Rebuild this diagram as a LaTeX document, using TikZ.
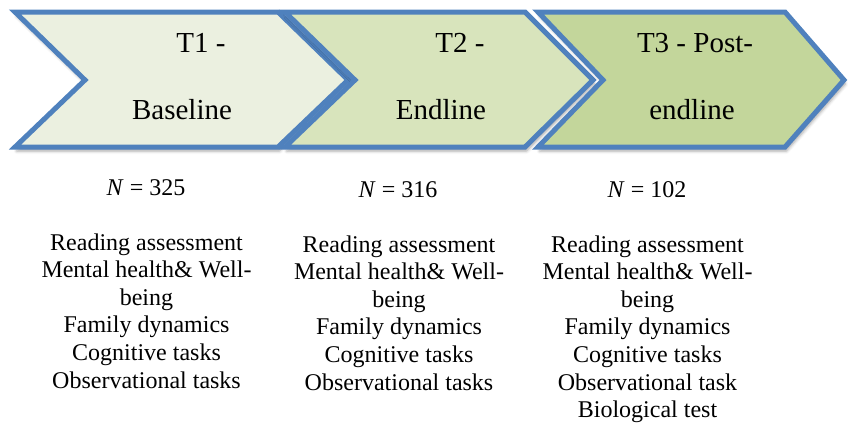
\documentclass[tikz,border=0pt]{standalone}
\usepackage{fontspec}
\setmainfont{Liberation Serif}
\usetikzlibrary{shadows.blur}
\definecolor{bordblue}{HTML}{4F81BD}
\definecolor{fillA}{HTML}{EBF0E0}
\definecolor{fillB}{HTML}{D8E4BC}
\definecolor{fillC}{HTML}{C3D69B}
\tikzset{
  chev/.style={draw=bordblue, line width=5pt, line join=miter,
    blur shadow={shadow xshift=1.5pt, shadow yshift=-4pt, shadow blur radius=3pt, shadow opacity=35}},
  headtxt/.style={font=\fontsize{29}{33}\selectfont, anchor=base, inner sep=0pt},
  listtxt/.style={font=\fontsize{24}{27.6}\selectfont, anchor=base, inner sep=0pt}
}
\begin{document}
\begin{tikzpicture}[x=1pt,y=-1pt]
\useasboundingbox (0,0) rectangle (848,424);
% chevrons
\path[chev, fill=fillA] (15,12) -- (278,12) -- (348,80) -- (278,147) -- (15,147) -- (85,80) -- cycle;
\path[chev, fill=fillB] (285,12) -- (525,12) -- (593,80) -- (525,147) -- (285,147) -- (355,80) -- cycle;
\path[chev, fill=fillC] (538,12) -- (785,12) -- (844,80) -- (785,147) -- (538,147) -- (603,80) -- cycle;
% chevron labels
\node[headtxt] (h1a) at (201,52) {T1 -};
\node[headtxt] (h1b) at (182,119) {Baseline};
\node[headtxt] (h2a) at (460,52) {T2 -};
\node[headtxt] (h2b) at (441,119) {Endline};
\node[headtxt] (h3a) at (695,52) {T3 - Post-};
\node[headtxt] (h3b) at (692,119) {endline};
% N values
\node[listtxt] (n1) at (146,195) {\textit{N} = 325};
\node[listtxt] (n2) at (398,197) {\textit{N} = 316};
\node[listtxt] (n3) at (647,197) {\textit{N} = 102};
% column 1
\node[listtxt] (a1) at (146.5,250) {Reading assessment};
\node[listtxt] (a2) at (146.5,277.6) {Mental health\& Well-};
\node[listtxt] (a3) at (146.5,305.2) {being};
\node[listtxt] (a4) at (146.5,332.8) {Family dynamics};
\node[listtxt] (a5) at (146.5,360.4) {Cognitive tasks};
\node[listtxt] (a6) at (146.5,388) {Observational tasks};
% column 2
\node[listtxt] (b1) at (399,252) {Reading assessment};
\node[listtxt] (b2) at (399,279.6) {Mental health\& Well-};
\node[listtxt] (b3) at (399,307.2) {being};
\node[listtxt] (b4) at (399,334.8) {Family dynamics};
\node[listtxt] (b5) at (399,362.4) {Cognitive tasks};
\node[listtxt] (b6) at (399,390) {Observational tasks};
% column 3
\node[listtxt] (c1) at (647.5,252) {Reading assessment};
\node[listtxt] (c2) at (647.5,279.6) {Mental health\& Well-};
\node[listtxt] (c3) at (647.5,307.2) {being};
\node[listtxt] (c4) at (647.5,334.8) {Family dynamics};
\node[listtxt] (c5) at (647.5,362.4) {Cognitive tasks};
\node[listtxt] (c6) at (647.5,390) {Observational task};
\node[listtxt] (c7) at (647.5,417.6) {Biological test};
\end{tikzpicture}
\end{document}
